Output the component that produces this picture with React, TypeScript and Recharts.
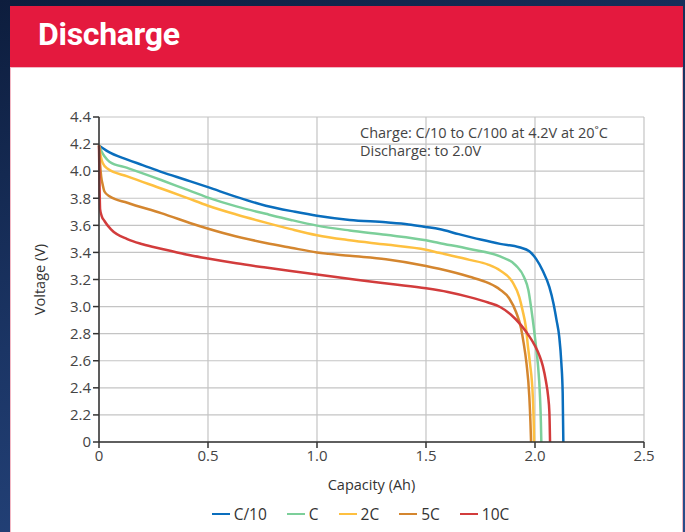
import { LineChart, Line, XAxis, YAxis, CartesianGrid } from 'recharts';

// capacity (Ah) / voltage (V); the "0" tick sits where 2.0V would be
const c10Cap = [0, 0.04, 0.13, 0.2, 0.285, 0.4, 0.5, 0.63, 0.765, 0.9, 1.0, 1.15, 1.316, 1.42, 1.5, 1.56, 1.65, 1.75, 1.84, 1.928, 1.974, 2.005, 2.035, 2.066, 2.085, 2.099, 2.111, 2.121, 2.127, 2.13];
const c10Volt = [4.19, 4.146, 4.085, 4.045, 3.995, 3.935, 3.882, 3.81, 3.745, 3.7, 3.671, 3.64, 3.622, 3.607, 3.588, 3.573, 3.535, 3.495, 3.463, 3.438, 3.408, 3.352, 3.266, 3.143, 3.021, 2.898, 2.78, 2.58, 2.36, 2.0];

const c1Cap = [0, 0.01, 0.025, 0.048, 0.13, 0.285, 0.4, 0.5, 0.63, 0.765, 0.88, 1.0, 1.15, 1.316, 1.5, 1.56, 1.7, 1.84, 1.913, 1.95, 1.97, 1.984, 1.996, 2.005, 2.013, 2.023, 2.027, 2.029];
const c1Volt = [4.19, 4.15, 4.11, 4.07, 4.024, 3.935, 3.865, 3.805, 3.74, 3.685, 3.64, 3.598, 3.562, 3.53, 3.49, 3.47, 3.425, 3.37, 3.303, 3.217, 3.119, 2.972, 2.825, 2.7, 2.58, 2.333, 2.15, 2.0];

const c2Cap = [0, 0.008, 0.017, 0.04, 0.13, 0.285, 0.4, 0.5, 0.63, 0.765, 0.88, 1.0, 1.15, 1.316, 1.5, 1.56, 1.7, 1.785, 1.84, 1.897, 1.928, 1.943, 1.958, 1.968, 1.977, 1.99, 1.994, 1.996];
const c2Volt = [4.19, 4.11, 4.06, 4.017, 3.962, 3.872, 3.805, 3.745, 3.68, 3.62, 3.572, 3.527, 3.49, 3.458, 3.42, 3.397, 3.345, 3.31, 3.266, 3.18, 3.07, 2.972, 2.849, 2.7, 2.58, 2.333, 2.15, 2.0];

const c5Cap = [0, 0.005, 0.01, 0.017, 0.025, 0.048, 0.13, 0.285, 0.46, 0.6, 0.765, 0.88, 1.0, 1.15, 1.316, 1.5, 1.56, 1.7, 1.785, 1.84, 1.882, 1.913, 1.936, 1.948, 1.961, 1.974, 1.979, 1.982];
const c5Volt = [4.19, 4.05, 3.96, 3.9, 3.85, 3.815, 3.767, 3.69, 3.595, 3.53, 3.47, 3.435, 3.4, 3.375, 3.35, 3.3, 3.279, 3.22, 3.175, 3.125, 3.06, 2.96, 2.84, 2.73, 2.58, 2.333, 2.15, 2.0];

const c10xCap = [0, 0.003, 0.005, 0.012, 0.025, 0.055, 0.13, 0.2, 0.29, 0.4, 0.5, 0.63, 0.765, 0.88, 1.0, 1.18, 1.35, 1.5, 1.6, 1.7, 1.785, 1.84, 1.89, 1.935, 1.974, 2.0, 2.02, 2.036, 2.05, 2.06, 2.066, 2.069];
const c10xVolt = [4.19, 3.85, 3.72, 3.67, 3.632, 3.57, 3.498, 3.46, 3.425, 3.385, 3.355, 3.32, 3.288, 3.262, 3.237, 3.198, 3.165, 3.135, 3.108, 3.07, 3.03, 2.997, 2.94, 2.865, 2.78, 2.71, 2.64, 2.56, 2.45, 2.34, 2.22, 2.0];

const xTicks = [0, 0.5, 1.0, 1.5, 2.0, 2.5];
const yTicks = [2.0, 2.2, 2.4, 2.6, 2.8, 3.0, 3.2, 3.4, 3.6, 3.8, 4.0, 4.2, 4.4];

const toPoints = (cap: number[], volt: number[]) => cap.map((c, i) => ({ cap: c, v: volt[i] }));

const series = [
  { name: 'C/10', color: '#0a6ebd', data: toPoints(c10Cap, c10Volt) },
  { name: 'C', color: '#7ccf9a', data: toPoints(c1Cap, c1Volt) },
  { name: '2C', color: '#fec040', data: toPoints(c2Cap, c2Volt) },
  { name: '5C', color: '#d4862f', data: toPoints(c5Cap, c5Volt) },
  { name: '10C', color: '#d23c3c', data: toPoints(c10xCap, c10xVolt) },
];

const FONT = '"Open Sans", "Noto Sans", sans-serif';

export default function App() {
  return (
    <div
      style={{
        position: 'absolute',
        left: 0,
        top: 0,
        width: 685,
        height: 532,
        overflow: 'hidden',
        background: 'linear-gradient(160deg, #0d1d3d 0%, #1b3565 45%, #2a4d8a 100%)',
        fontFamily: FONT,
      }}
    >
      <div
        style={{
          position: 'absolute',
          left: 10,
          top: 6,
          width: 673,
          height: 61,
          background: '#e4193e',
        }}
      >
        <div
          style={{
            position: 'absolute',
            left: 28,
            top: 9,
            color: '#fff',
            fontFamily: 'Roboto, "Liberation Sans", sans-serif',
            fontWeight: 700,
            fontSize: 32,
            letterSpacing: -0.3,
          }}
        >
          Discharge
        </div>
      </div>
      <div
        style={{
          position: 'absolute',
          left: 10,
          top: 67,
          width: 673,
          height: 470,
          background: '#fff',
          boxShadow: 'inset 0 0 0 1px #f2b8c4',
        }}
      />
      <div style={{ position: 'absolute', left: 0, top: 0 }}>
        <LineChart width={685} height={532} margin={{ top: 117, right: 41, bottom: 42, left: 39 }}>
          <CartesianGrid stroke="#c4c4c4" strokeWidth={1.2} />
          <XAxis
            type="number"
            dataKey="cap"
            domain={[0, 2.5]}
            ticks={xTicks}
            tickFormatter={(v: number) => (v === 0 ? '0' : v.toFixed(1))}
            height={48}
            stroke="#333"
            strokeWidth={1.5}
            tickSize={6}
            tick={{ fill: '#444', fontSize: 15, fontFamily: FONT }}
            label={{ value: 'Capacity (Ah)', position: 'insideBottom', offset: 0, fill: '#333', fontSize: 14.5, fontFamily: FONT }}
            allowDuplicatedCategory={false}
          />
          <YAxis
            type="number"
            dataKey="v"
            domain={[2.0, 4.4]}
            ticks={yTicks}
            tickFormatter={(v: number) => (v === 2 ? '0' : v.toFixed(1))}
            width={60}
            stroke="#333"
            strokeWidth={1.5}
            tickSize={6}
            tick={{ fill: '#444', fontSize: 15, fontFamily: FONT }}
            label={{ value: 'Voltage (V)', angle: -90, position: 'insideLeft', offset: 1, fill: '#333', fontSize: 14.5, fontFamily: FONT, style: { textAnchor: 'middle' } }}
          />
          {series.map((s) => (
            <Line
              key={s.name}
              data={s.data}
              dataKey="v"
              name={s.name}
              type="monotone"
              stroke={s.color}
              strokeWidth={2.5}
              dot={false}
              isAnimationActive={false}
            />
          ))}
        </LineChart>
      </div>
      <div style={{ position: 'absolute', left: 360, top: 124, color: '#444', fontSize: 14.5, lineHeight: '18px' }}>
        <div>Charge: C/10 to C/100 at 4.2V at 20˚C</div>
        <div>Discharge: to 2.0V</div>
      </div>
      <div
        style={{
          position: 'absolute',
          left: 0,
          width: 685,
          top: 503,
          display: 'flex',
          justifyContent: 'center',
          gap: 20,
          fontSize: 15.5,
          color: '#333',
          paddingLeft: 36,
          boxSizing: 'border-box',
        }}
      >
        {series.map((s) => (
          <div key={s.name} style={{ display: 'flex', alignItems: 'center', gap: 4 }}>
            <div style={{ width: 18, height: 2.5, background: s.color }} />
            <span>{s.name}</span>
          </div>
        ))}
      </div>
    </div>
  );
}
